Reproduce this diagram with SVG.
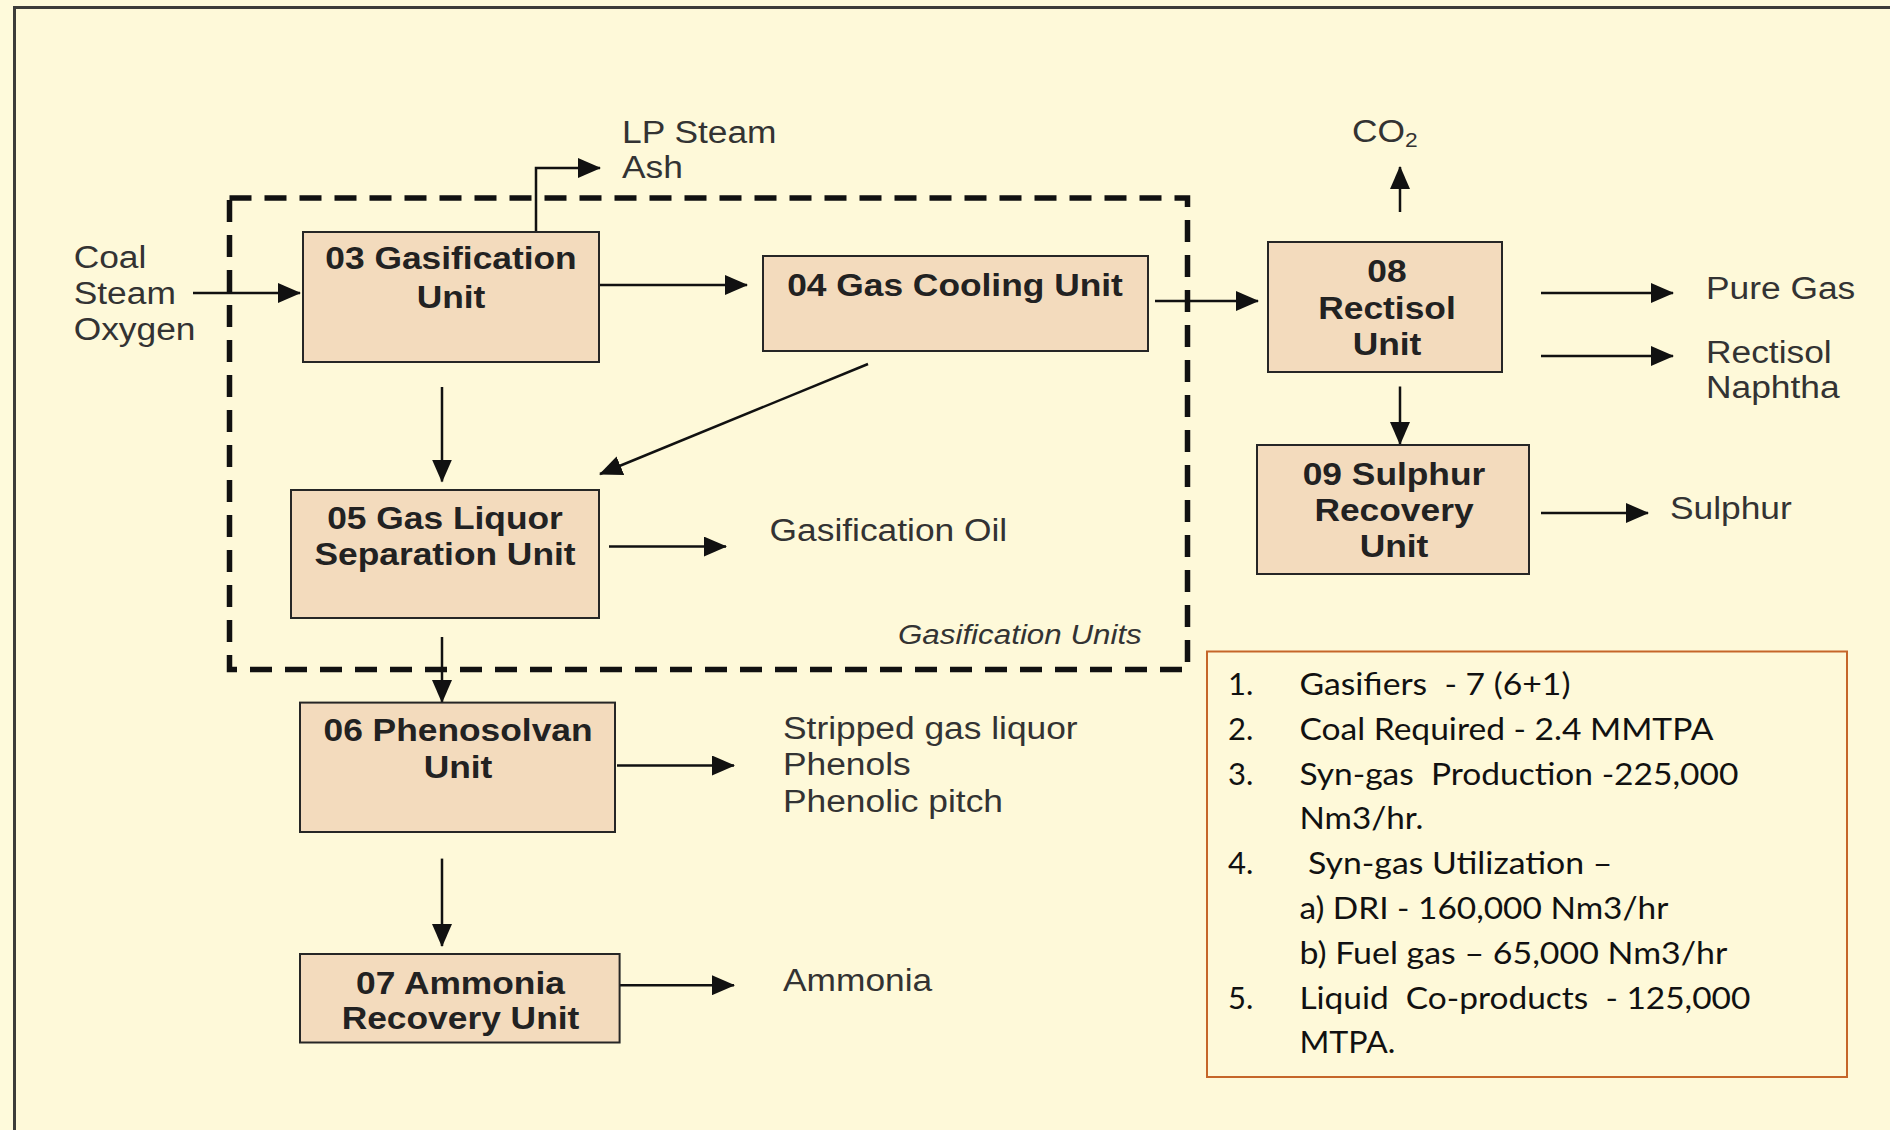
<svg xmlns="http://www.w3.org/2000/svg" width="1890" height="1130" viewBox="0 0 1890 1130">
<defs>
<style>
.bg{fill:#FEFADB}
.frame{fill:#FEF9D9;stroke:#3c3c3a;stroke-width:3}
.box{fill:#F3DBBD;stroke:#262626;stroke-width:2}
.dash{fill:none;stroke:#111;stroke-width:5.5;stroke-dasharray:22 13}
.conn{fill:none;stroke:#111;stroke-width:2.5}
.t{font-family:"Liberation Sans",Arial,sans-serif;font-size:31px;fill:#333}
.u{font-family:"Liberation Sans",Arial,sans-serif;font-size:31px;font-weight:bold;fill:#222;text-anchor:middle}
.it{font-family:"Liberation Sans",Arial,sans-serif;font-size:27.5px;font-style:italic;fill:#333}
.n{font-family:Lato,"Open Sans","Liberation Sans",sans-serif;font-size:31px;fill:#111}
.note{fill:none;stroke:#C5662A;stroke-width:2}
</style>
<marker id="ah" markerUnits="userSpaceOnUse" markerWidth="23" markerHeight="20" refX="22" refY="10" orient="auto" viewBox="0 0 23 20">
<path d="M0,0 L23,10 L0,20 z" fill="#111"/>
</marker>
</defs>
<rect class="bg" x="0" y="0" width="1890" height="1130"/>
<rect class="frame" x="14.5" y="7.5" width="1900" height="1200"/>

<g id="gasification-units">
<rect class="dash" x="229.5" y="198" width="958" height="471.5"/>
<text class="it" transform="translate(898,644.4) scale(1.14,1)">Gasification Units</text>
</g>

<g id="connectors">
<line class="conn" x1="193" y1="293" x2="300" y2="293" marker-end="url(#ah)"/>
<path class="conn" d="M536,232 V168 H600" marker-end="url(#ah)"/>
<line class="conn" x1="599" y1="285" x2="747" y2="285" marker-end="url(#ah)"/>
<line class="conn" x1="1155" y1="301" x2="1258" y2="301" marker-end="url(#ah)"/>
<line class="conn" x1="868" y1="364" x2="600" y2="474" marker-end="url(#ah)"/>
<line class="conn" x1="442" y1="387" x2="442" y2="481.5" marker-end="url(#ah)"/>
<line class="conn" x1="609" y1="546.6" x2="726" y2="546.6" marker-end="url(#ah)"/>
<line class="conn" x1="442" y1="637" x2="442" y2="702" marker-end="url(#ah)"/>
<line class="conn" x1="617" y1="765.5" x2="734" y2="765.5" marker-end="url(#ah)"/>
<line class="conn" x1="442" y1="858.6" x2="442" y2="946" marker-end="url(#ah)"/>
<line class="conn" x1="620" y1="985.2" x2="734" y2="985.2" marker-end="url(#ah)"/>
<line class="conn" x1="1400" y1="212" x2="1400" y2="167" marker-end="url(#ah)"/>
<line class="conn" x1="1541" y1="293" x2="1673" y2="293" marker-end="url(#ah)"/>
<line class="conn" x1="1541" y1="356" x2="1673" y2="356" marker-end="url(#ah)"/>
<line class="conn" x1="1400" y1="386.5" x2="1400" y2="444" marker-end="url(#ah)"/>
<line class="conn" x1="1541" y1="513" x2="1648" y2="513" marker-end="url(#ah)"/>
</g>

<g id="inputs">
<text class="t" transform="translate(73.7,268) scale(1.14,1)">Coal</text>
<text class="t" transform="translate(73.7,304) scale(1.14,1)">Steam</text>
<text class="t" transform="translate(73.7,340) scale(1.14,1)">Oxygen</text>
</g>

<g id="unit03">
<rect class="box" x="303" y="232" width="296" height="130"/>
<text class="u" transform="translate(451,269) scale(1.14,1)">03 Gasification</text>
<text class="u" transform="translate(451,308) scale(1.14,1)">Unit</text>
</g>

<g id="out-lpsteam">
<text class="t" transform="translate(622,143) scale(1.14,1)">LP Steam</text>
<text class="t" transform="translate(622,178) scale(1.14,1)">Ash</text>
</g>

<g id="unit04">
<rect class="box" x="763" y="256" width="385" height="95"/>
<text class="u" transform="translate(955,296) scale(1.14,1)">04 Gas Cooling Unit</text>
</g>

<g id="unit05">
<rect class="box" x="291" y="490" width="308" height="128"/>
<text class="u" transform="translate(445,529) scale(1.14,1)">05 Gas Liquor</text>
<text class="u" transform="translate(445,565) scale(1.14,1)">Separation Unit</text>
</g>

<g id="out-gasoil">
<text class="t" transform="translate(769.6,540.6) scale(1.14,1)">Gasification Oil</text>
</g>

<g id="unit06">
<rect class="box" x="300" y="702.6" width="315" height="129.4"/>
<text class="u" transform="translate(458,741) scale(1.14,1)">06 Phenosolvan</text>
<text class="u" transform="translate(458,778) scale(1.14,1)">Unit</text>
</g>

<g id="out-phenols">
<text class="t" transform="translate(783,738.5) scale(1.14,1)">Stripped gas liquor</text>
<text class="t" transform="translate(783,774.8) scale(1.14,1)">Phenols</text>
<text class="t" transform="translate(783,812) scale(1.14,1)">Phenolic pitch</text>
</g>

<g id="unit07">
<rect class="box" x="300" y="954" width="319.6" height="88.5"/>
<text class="u" transform="translate(460.5,993.6) scale(1.14,1)">07 Ammonia</text>
<text class="u" transform="translate(460.5,1029.4) scale(1.14,1)">Recovery Unit</text>
</g>

<g id="out-ammonia">
<text class="t" transform="translate(783,991) scale(1.14,1)">Ammonia</text>
</g>

<g id="unit08">
<rect class="box" x="1268" y="242" width="234" height="130"/>
<text class="u" transform="translate(1387,282) scale(1.14,1)">08</text>
<text class="u" transform="translate(1387,319) scale(1.14,1)">Rectisol</text>
<text class="u" transform="translate(1387,355) scale(1.14,1)">Unit</text>
</g>

<g id="out-co2">
<text class="t" transform="translate(1352,142) scale(1.14,1)">CO<tspan font-size="20" dy="5">2</tspan></text>
</g>

<g id="out-puregas">
<text class="t" transform="translate(1706,298.5) scale(1.14,1)">Pure Gas</text>
</g>

<g id="out-naphtha">
<text class="t" transform="translate(1706,363) scale(1.14,1)">Rectisol</text>
<text class="t" transform="translate(1706,398) scale(1.14,1)">Naphtha</text>
</g>

<g id="unit09">
<rect class="box" x="1257" y="445" width="272" height="129"/>
<text class="u" transform="translate(1394,485) scale(1.14,1)">09 Sulphur</text>
<text class="u" transform="translate(1394,520.5) scale(1.14,1)">Recovery</text>
<text class="u" transform="translate(1394,557) scale(1.14,1)">Unit</text>
</g>

<g id="out-sulphur">
<text class="t" transform="translate(1670,518.6) scale(1.14,1)">Sulphur</text>
</g>

<g id="notes">
<rect class="note" x="1207" y="651.5" width="640" height="425.5"/>
<text class="n" x="1228" y="695">1.</text>
<text class="n" x="1228" y="739.8">2.</text>
<text class="n" x="1228" y="784.6">3.</text>
<text class="n" x="1228" y="874.2">4.</text>
<text class="n" x="1228" y="1008.6">5.</text>
<text class="n" x="1299.4" y="695" xml:space="preserve" textLength="271" lengthAdjust="spacingAndGlyphs">Gasifiers  - 7 (6+1)</text>
<text class="n" x="1299.4" y="739.8" textLength="414" lengthAdjust="spacingAndGlyphs">Coal Required - 2.4 MMTPA</text>
<text class="n" x="1299.4" y="784.6" xml:space="preserve" textLength="439" lengthAdjust="spacingAndGlyphs">Syn-gas  Production -225,000</text>
<text class="n" x="1299.4" y="829.4" textLength="124" lengthAdjust="spacingAndGlyphs">Nm3/hr.</text>
<text class="n" x="1299.4" y="874.2" xml:space="preserve" textLength="313" lengthAdjust="spacingAndGlyphs"> Syn-gas Utilization –</text>
<text class="n" x="1299.4" y="919" textLength="369" lengthAdjust="spacingAndGlyphs">a) DRI - 160,000 Nm3/hr</text>
<text class="n" x="1299.4" y="963.8" textLength="428" lengthAdjust="spacingAndGlyphs">b) Fuel gas – 65,000 Nm3/hr</text>
<text class="n" x="1299.4" y="1008.6" xml:space="preserve" textLength="451" lengthAdjust="spacingAndGlyphs">Liquid  Co-products  - 125,000</text>
<text class="n" x="1299.4" y="1053.4" textLength="96" lengthAdjust="spacingAndGlyphs">MTPA.</text>
</g>
</svg>
